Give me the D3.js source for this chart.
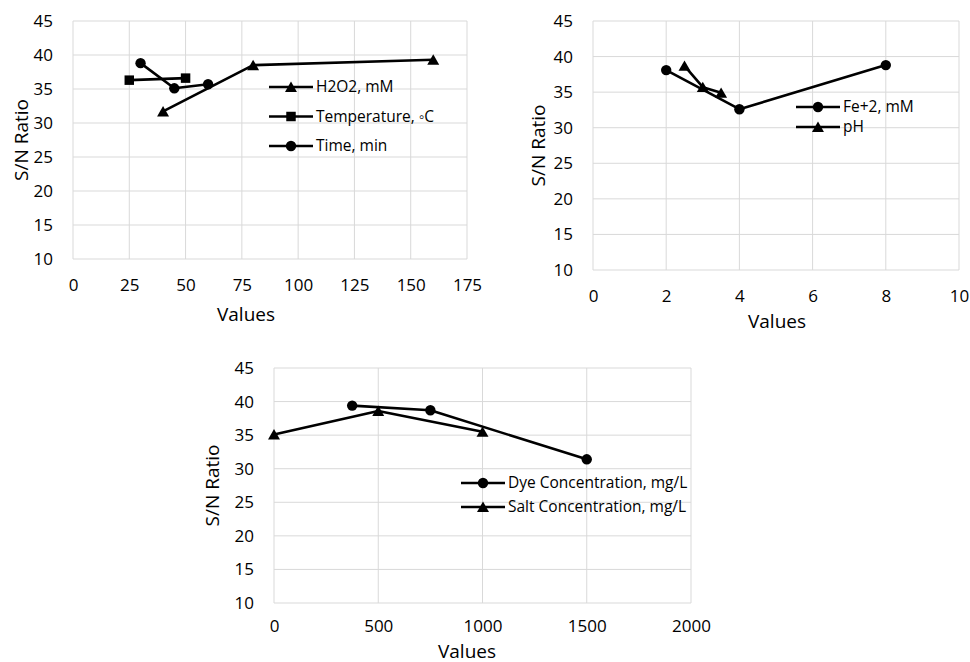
<!DOCTYPE html>
<html>
<head>
<meta charset="utf-8">
<script src="https://cdn.jsdelivr.net/npm/d3@7"></script>
<style>
  body { margin: 0; background: #fff; }
  svg { font-family: "Open Sans", sans-serif; }
</style>
</head>
<body>
<script>
// ---- data ----
const h2o2 = [[40, 31.7], [80, 38.5], [160, 39.3]];
const temperature = [[25, 36.3], [50, 36.6]];
const time = [[30, 38.8], [45, 35.1], [60, 35.7]];

const fe2 = [[2, 38.1], [4, 32.6], [8, 38.8]];
const ph = [[2.5, 38.7], [3, 35.7], [3.5, 34.9]];

const dye = [[375, 39.4], [750, 38.7], [1500, 31.4]];
const salt = [[0, 35.1], [500, 38.6], [1000, 35.5]];

const yTicks = [10, 15, 20, 25, 30, 35, 40, 45];
const xTicksA = [0, 25, 50, 75, 100, 125, 150, 175];
const xTicksB = [0, 2, 4, 6, 8, 10];
const xTicksC = [0, 500, 1000, 1500, 2000];

const width = 970, height = 662;

const svg = d3.select("body").append("svg")
    .attr("width", width)
    .attr("height", height);

// marker shapes
const symbols = {
    triangle: d3.symbol().type(d3.symbolTriangle).size(62),
    square: d3.symbol().type(d3.symbolSquare).size(90),
    circle: d3.symbol().type(d3.symbolCircle).size(85)
};

function panel(cfg) {
    const x = d3.scaleLinear().domain(d3.extent(cfg.xTicks)).range([cfg.left, cfg.right]);
    const y = d3.scaleLinear().domain([10, 45]).range([cfg.bottom, cfg.top]);
    const g = svg.append("g");

    // gridlines
    g.append("g").selectAll("line").data(yTicks).join("line")
        .attr("x1", cfg.left).attr("x2", cfg.right)
        .attr("y1", d => y(d)).attr("y2", d => y(d))
        .attr("stroke", "#d9d9d9").attr("stroke-width", 1);
    g.append("g").selectAll("line").data(cfg.xTicks).join("line")
        .attr("y1", cfg.top).attr("y2", cfg.bottom)
        .attr("x1", d => x(d)).attr("x2", d => x(d))
        .attr("stroke", "#d9d9d9").attr("stroke-width", 1);

    // tick labels via axes, domain lines removed
    const yAxis = g.append("g")
        .attr("transform", `translate(${cfg.left},0)`)
        .call(d3.axisLeft(y).tickValues(yTicks).tickSize(0).tickPadding(20));
    const xAxis = g.append("g")
        .attr("transform", `translate(0,${cfg.bottom})`)
        .call(d3.axisBottom(x).tickValues(cfg.xTicks).tickFormat(d3.format("d")).tickSize(0).tickPadding(cfg.xPad));
    [yAxis, xAxis].forEach(a => {
        a.select(".domain").remove();
        a.selectAll("text").attr("font-size", 17).attr("fill", "#000")
            .attr("font-family", "Open Sans, sans-serif");
    });

    // axis titles
    g.append("text")
        .attr("transform", `translate(${cfg.yTitleX},${(cfg.top + cfg.bottom) / 2}) rotate(-90)`)
        .attr("text-anchor", "middle").attr("dy", "0.35em")
        .attr("font-size", 19).text("S/N Ratio");
    g.append("text")
        .attr("x", cfg.xTitleX).attr("y", cfg.xTitleY)
        .attr("text-anchor", "middle")
        .attr("font-size", 19).text("Values");

    const line = d3.line().x(d => x(d[0])).y(d => y(d[1]));

    cfg.series.forEach(s => {
        g.append("path")
            .datum(s.data)
            .attr("d", line)
            .attr("fill", "none")
            .attr("stroke", "#000")
            .attr("stroke-width", 2.6)
            .attr("stroke-linejoin", "round");
        g.append("g").selectAll("path").data(s.data).join("path")
            .attr("d", symbols[s.shape])
            .attr("transform", d => `translate(${x(d[0])},${y(d[1]) + (s.shape == "triangle" ? 1.5 : 0)})`)
            .attr("fill", "#000");
    });

    // legend
    const lg = g.append("g");
    cfg.series.forEach((s, i) => {
        const ly = cfg.legend.y + i * cfg.legend.step;
        const lx = cfg.legend.x;
        lg.append("line")
            .attr("x1", lx).attr("x2", lx + 44)
            .attr("y1", ly).attr("y2", ly)
            .attr("stroke", "#000").attr("stroke-width", 2.6);
        lg.append("path")
            .attr("d", symbols[s.shape])
            .attr("transform", `translate(${lx + 22},${ly + (s.shape == "triangle" ? 1.5 : 0)})`)
            .attr("fill", "#000");
        lg.append("text")
            .attr("x", lx + 47).attr("y", ly)
            .attr("dy", "0.35em")
            .attr("font-size", 15.5)
            .text(s.name);
    });
}

panel({
    left: 73, right: 467, top: 21, bottom: 259,
    xTicks: xTicksA, xPad: 20,
    yTitleX: 21, xTitleX: 246, xTitleY: 321,
    series: [
        { name: "H2O2, mM", data: h2o2, shape: "triangle" },
        { name: "Temperature, ◦C", data: temperature, shape: "square" },
        { name: "Time, min", data: time, shape: "circle" }
    ],
    legend: { x: 269, y: 87, step: 29.5 }
});

panel({
    left: 593, right: 959, top: 21, bottom: 270,
    xTicks: xTicksB, xPad: 20,
    yTitleX: 538, xTitleX: 777, xTitleY: 328,
    series: [
        { name: "Fe+2, mM", data: fe2, shape: "circle" },
        { name: "pH", data: ph, shape: "triangle" }
    ],
    legend: { x: 796, y: 107, step: 20 }
});

panel({
    left: 274, right: 691, top: 368, bottom: 603,
    xTicks: xTicksC, xPad: 17,
    yTitleX: 212, xTitleX: 467, xTitleY: 657.5,
    series: [
        { name: "Dye Concentration, mg/L", data: dye, shape: "circle" },
        { name: "Salt Concentration, mg/L", data: salt, shape: "triangle" }
    ],
    legend: { x: 461, y: 483, step: 24 }
});
</script>
</body>
</html>
